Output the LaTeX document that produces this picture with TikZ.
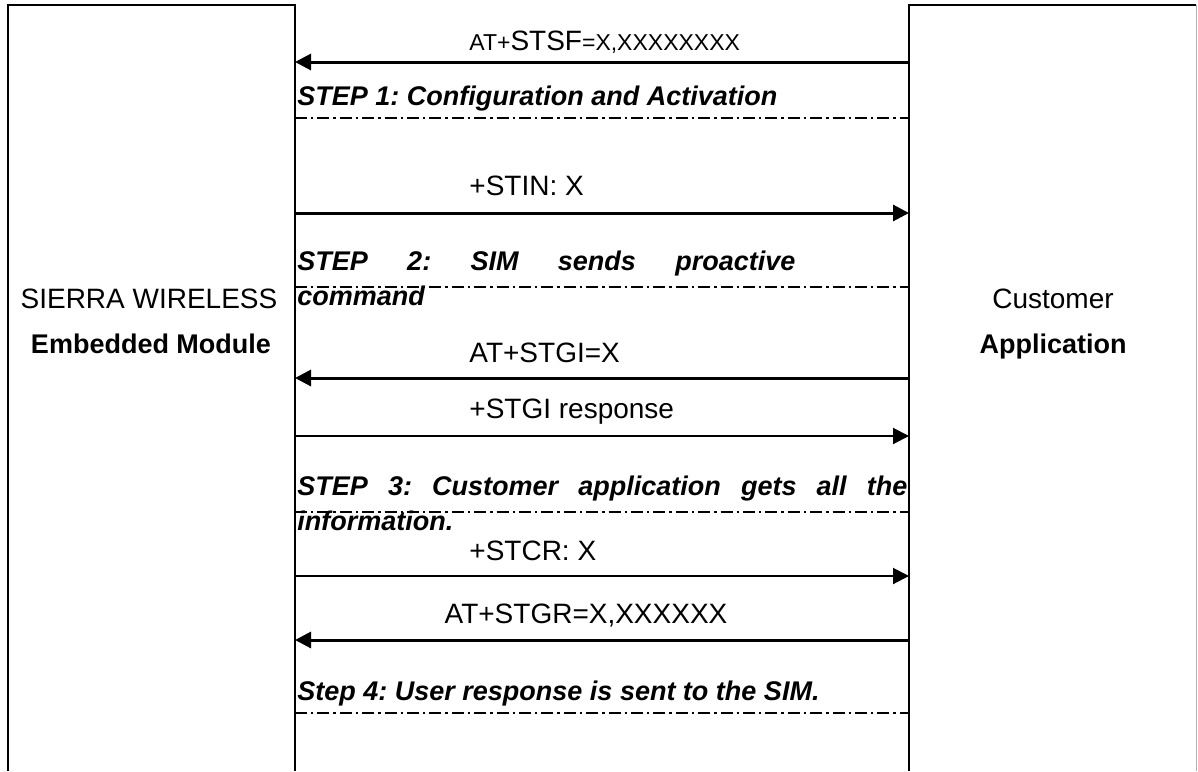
\documentclass[tikz,border=0pt]{standalone}
\usepackage{fontspec}
\setmainfont{Liberation Sans}
\usepackage{tikz}
\usetikzlibrary{arrows.meta}
\usetikzlibrary{calc}
\frenchspacing
\tikzstyle{call}=[line width=1.5pt, -{Triangle[length=8pt,width=8pt]}]
\tikzstyle{reply}=[line width=1pt, -{Triangle[length=8pt,width=8pt]}]
\tikzstyle{stepline}=[line width=1pt, dash pattern=on 6pt off 2pt on 1.2pt off 2pt]
\tikzstyle{steptext}=[font=\fontsize{13.5}{17.5}\selectfont\bfseries\itshape, anchor=base west, inner sep=0pt]
\tikzstyle{msgtext}=[font=\fontsize{14}{16}\selectfont, anchor=base west, inner sep=0pt]
\tikzstyle{boxtext}=[font=\fontsize{14}{16}\selectfont, anchor=base, inner sep=0pt]
\newcommand{\modX}{295}
\newcommand{\appX}{909}
\newcommand{\smalltxt}[1]{{\fontsize{11.5}{14}\selectfont #1}}

\begin{document}
\begin{tikzpicture}[x=0.5pt,y=-0.5pt]
\useasboundingbox (0,0) rectangle (1198,771);
% the two boxes, open at the bottom
\draw[line width=1pt] (8,771) -- (8,5) -- (\modX,5) -- (\modX,771);
\draw[line width=1pt] (\appX,771) -- (\appX,5) -- (1196,5);
\draw[gray!60, line width=0.5pt] (1196,5) -- (1196,771);
\node[boxtext] (mod1) at (149,308) {SIERRA WIRELESS};
\node[boxtext, font=\fontsize{13.5}{16}\selectfont\bfseries] (mod2) at (151,353) {Embedded Module};
\node[boxtext] (app1) at (1053,308) {Customer};
\node[boxtext, font=\fontsize{13.5}{16}\selectfont\bfseries] (app2) at (1053,353) {Application};
% end points of the messages and of the step lines
\foreach \n/\y in {1/62,2/213,3/378,4/436,5/576,6/640} {
	\coordinate (m\n) at (\modX,\y);
	\coordinate (a\n) at (\appX,\y);
}
\foreach \n/\y in {1/118,2/287,3/512,4/713} {
	\coordinate (ms\n) at (\modX,\y);
	\coordinate (as\n) at (\appX,\y);
}
% messages
\draw[call] (a1) -- (m1);
\node[msgtext] (t1) at (469,50) {\smalltxt{AT+}STSF\smalltxt{=X,XXXXXXXX}};
\draw[call] (m2) -- (a2);
\node[msgtext] (t2) at (469,195) {+STIN: X};
\draw[call] (a3) -- (m3);
\node[msgtext] (t3) at (469,362) {AT+STGI=X};
\draw[reply] (m4) -- (a4);
\node[msgtext] (t4) at (469,418) {+STGI response};
\draw[reply] (m5) -- (a5);
\node[msgtext] (t5) at (469,560) {+STCR: X};
\draw[call] (a6) -- (m6);
\node[boxtext] (t6) at (586,623) {AT+STGR=X,XXXXXX};
% steps
\draw[stepline] (ms1) -- (as1);
\node[steptext] (s1) at (297,105) {STEP 1: Configuration and Activation};
\draw[stepline] (ms2) -- (as2);
\node[steptext] (s2a) at (297,270) {\makebox[249pt][s]{STEP 2: SIM sends proactive}};
\node[steptext] (s2b) at (297,305) {command};
\draw[stepline] (ms3) -- (as3);
\node[steptext] (s3a) at (297,495) {\makebox[305pt][s]{STEP 3: Customer application gets all the}};
\node[steptext] (s3b) at (297,530) {information.};
\draw[stepline] (ms4) -- (as4);
\node[steptext] (s4) at (297,700) {Step 4: User response is sent to the SIM.};
\end{tikzpicture}
\end{document}
